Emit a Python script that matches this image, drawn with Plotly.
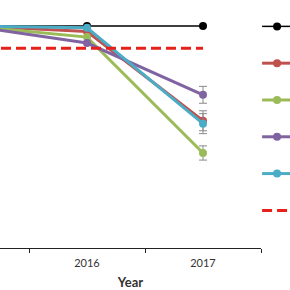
import plotly.graph_objects as go

years = ["2015", "2016", "2017"]
s_black = [100, 100, 100]
s_red = [100, 97.5, 57.3]
s_green = [100, 95.0, 42.8]
s_purple = [100, 92.3, 69.0]
s_cyan = [100, 99.2, 56.0]
threshold = [90, 90, 90]
err_red = [0, 0, 4.5]
err_green = [0, 0, 3.2]
err_purple = [0, 0, 3.8]
err_cyan = [0, 0, 4.5]
names = ["Reference", "Series A", "Series B", "Series C", "Series D", "Threshold"]

fig = go.Figure()

def add(y, name, color, width, err=None):
    kw = {}
    if err is not None:
        kw["error_y"] = dict(type="data", array=err, visible=True, color="#8a8a8a",
                             thickness=1, width=4)
    fig.add_trace(go.Scatter(x=years, y=y, name=name, mode="lines+markers",
                             line=dict(color=color, width=width),
                             marker=dict(color=color, size=8), **kw))

add(s_black, names[0], "black", 1.5)
add(s_red, names[1], "#C0504D", 3, err_red)
add(s_green, names[2], "#9BBB59", 3, err_green)
add(s_purple, names[3], "#8064A2", 3, err_purple)
add(s_cyan, names[4], "#4BACC6", 3, err_cyan)
fig.add_trace(go.Scatter(x=years, y=threshold, name=names[5], mode="lines",
                         line=dict(color="#E8201A", width=3, dash="10px,5px")))

fig.update_layout(
    width=290, height=290,
    margin=dict(l=0, r=29, t=0, b=42, autoexpand=False),
    paper_bgcolor="white", plot_bgcolor="white",
    font=dict(family="Lato, Liberation Sans, sans-serif", color="#333333"),
    showlegend=True,
    legend=dict(x=0.985, y=0.988, xanchor="left", yanchor="top",
                font=dict(size=26), bgcolor="rgba(0,0,0,0)",
                borderwidth=0, itemwidth=30),
    xaxis=dict(type="category", range=[0.25, 2.5], tickson="boundaries",
               showline=True, linecolor="#222222", linewidth=1,
               ticks="outside", ticklen=4, tickcolor="#222222",
               showgrid=False, zeroline=False, ticklabelstandoff=5,
               tickfont=dict(size=11, color="#333333"),
               title=dict(text="<b>Year</b>", font=dict(size=13, color="#333333"),
                          standoff=10)),
    yaxis=dict(range=[0, 111.7], visible=False, showgrid=False),
)

fig.write_html("out.html")
